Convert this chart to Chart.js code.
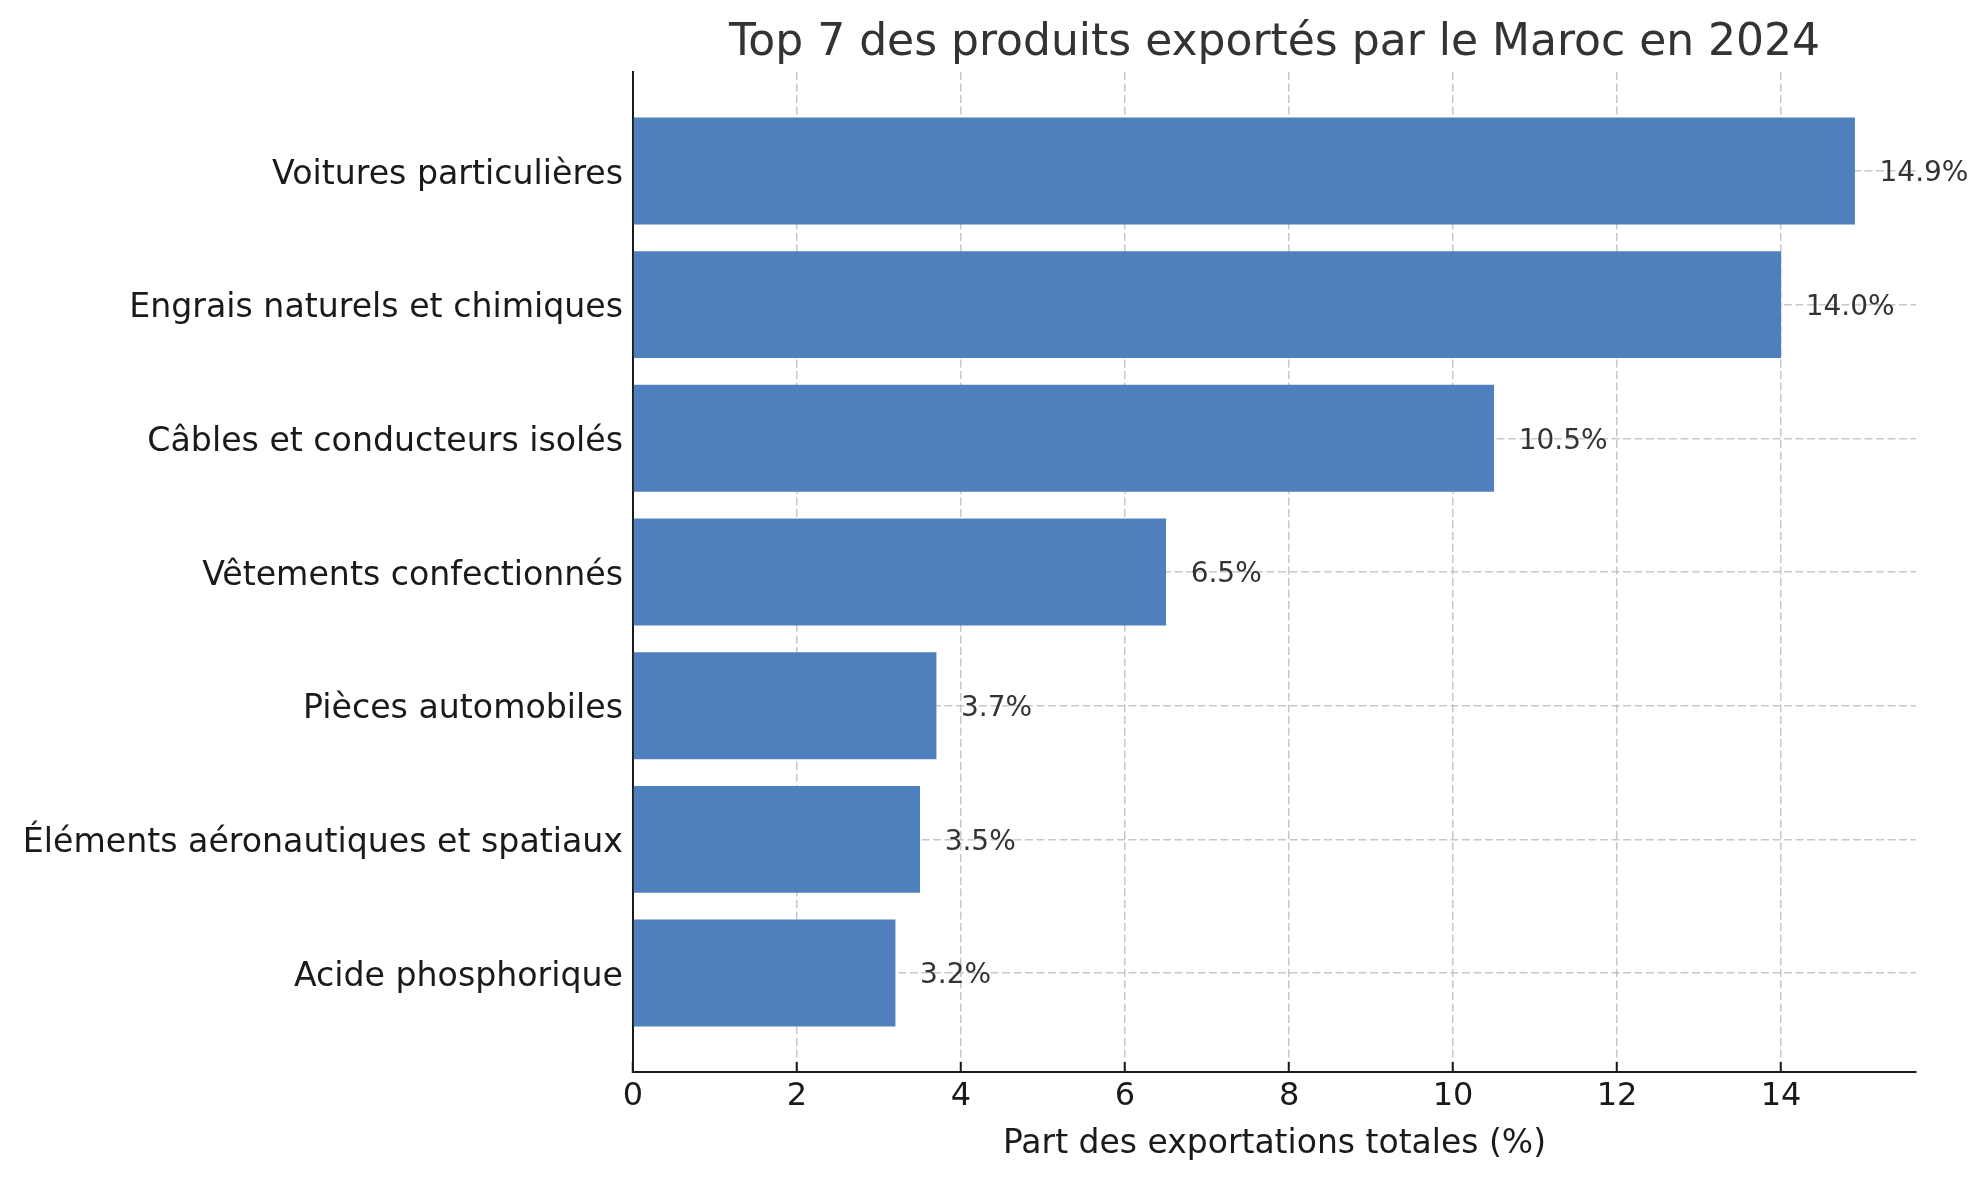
<!DOCTYPE html>
<html lang="fr">
<head>
<meta charset="utf-8">
<title>Top 7 des produits exportés par le Maroc en 2024</title>
<script src="https://cdn.jsdelivr.net/npm/chart.js@4/dist/chart.umd.min.js"></script>
<style>
	body { margin: 0; background: #fff; }
	#wrap { width: 1987px; height: 1180px; }
</style>
</head>
<body>
<div id="wrap"><canvas id="myChart"></canvas></div>
<script>
const categories = [
	'Voitures particulières',
	'Engrais naturels et chimiques',
	'Câbles et conducteurs isolés',
	'Vêtements confectionnés',
	'Pièces automobiles',
	'Éléments aéronautiques et spatiaux',
	'Acide phosphorique'
];
const shares = [14.9, 14.0, 10.5, 6.5, 3.7, 3.5, 3.2];
const xTicks = [0, 2, 4, 6, 8, 10, 12, 14];

const font = '"DejaVu Sans", sans-serif';
const gridColor = 'rgba(176,176,176,0.7)';

// text "14.9%" etc. right of each bar
const valueLabels = {
	id: 'valueLabels',
	afterDraw(chart) {
		const c = chart.ctx;
		const xScale = chart.scales.x;
		const meta = chart.getDatasetMeta(0);
		c.save();
		c.font = '28px ' + font;
		c.fillStyle = '#333';
		c.textAlign = 'left';
		c.textBaseline = 'middle';
		meta.data.forEach((bar, i) => {
			c.fillText(shares[i].toFixed(1) + '%', xScale.getPixelForValue(shares[i] + 0.3), bar.y + 3);
		});
		c.restore();
	}
};

const ctx = document.getElementById('myChart').getContext("2d");

new Chart(ctx, {
	type: 'bar',
	data: {
		datasets: [{
			label: 'Part des exportations totales (%)',
			data: shares.map((v, i) => ({ x: v, y: i })),
			backgroundColor: '#4f80bd',
			borderWidth: 0,
			barPercentage: 0.8,
			categoryPercentage: 1.0
		}]
	},
	plugins: [valueLabels],
	options: {
		indexAxis: 'y',
		responsive: true,
		maintainAspectRatio: false,
		animation: false,
		layout: {
			padding: { left: 0, right: 71, top: 0, bottom: 0 }
		},
		plugins: {
			legend: { display: false },
			tooltip: { enabled: false },
			title: {
				display: true,
				text: 'Top 7 des produits exportés par le Maroc en 2024',
				fullSize: false,
				color: '#333',
				font: { family: font, size: 44, weight: 'normal', lineHeight: 1.2 },
				padding: { top: 17.5, bottom: 1.7 }
			}
		},
		scales: {
			x: {
				type: 'linear',
				min: 0,
				max: 15.645,
				offset: false,
				z: 1,
				afterBuildTicks: (axis) => {
					axis.ticks = xTicks.map(v => ({ value: v }));
				},
				afterFit: (axis) => {
					axis.height = 108;
				},
				grid: {
					offset: false,
					color: gridColor,
					lineWidth: 1.5,
					tickLength: -10,
					tickColor: '#1a1a1a',
					tickWidth: 2
				},
				border: {
					color: '#1a1a1a',
					width: 2,
					dash: [8, 3.5]
				},
				ticks: {
					color: '#1a1a1a',
					padding: 15,
					font: { family: font, size: 32 }
				},
				title: {
					display: true,
					text: 'Part des exportations totales (%)',
					color: '#1a1a1a',
					font: { family: font, size: 33, lineHeight: 1.2 },
					padding: { top: 0, bottom: 16 }
				}
			},
			y: {
				type: 'linear',
				min: -0.74,
				max: 6.74,
				reverse: true,
				offset: false,
				z: 1,
				afterBuildTicks: (axis) => {
					axis.ticks = categories.map((c, i) => ({ value: i }));
				},
				afterFit: (axis) => {
					axis.width = 633;
				},
				grid: {
					offset: false,
					color: gridColor,
					lineWidth: 1.5,
					tickLength: -10,
					tickColor: '#1a1a1a',
					tickWidth: 2
				},
				border: {
					color: '#1a1a1a',
					width: 2,
					dash: [8, 3.5]
				},
				ticks: {
					autoSkip: false,
					color: '#1a1a1a',
					padding: 20,
					labelOffset: 4,
					font: { family: font, size: 33.2 },
					callback: (value) => categories[value]
				}
			}
		}
	}
});
</script>
</body>
</html>
